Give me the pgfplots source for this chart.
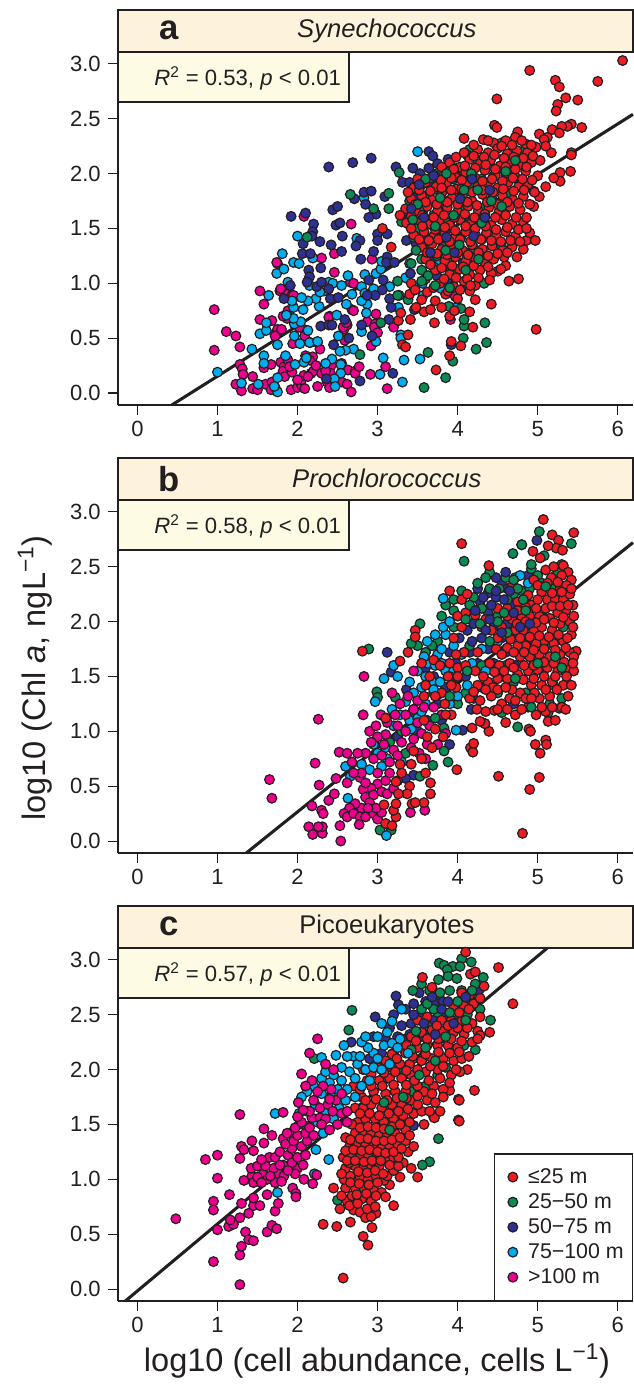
\documentclass[border=0pt]{standalone}
\usepackage{pgfplots}
\usepackage{fontspec}
\setmainfont{Liberation Sans}
\pgfplotsset{compat=1.18}
\definecolor{cR}{HTML}{ED1C24}
\definecolor{cG}{HTML}{0B8A55}
\definecolor{cN}{HTML}{2E3192}
\definecolor{cC}{HTML}{00AEEF}
\definecolor{cM}{HTML}{EC008C}
\definecolor{ink}{HTML}{231F20}
\definecolor{hdr}{HTML}{FDF3DC}
\definecolor{bxc}{HTML}{FEFBE4}
\newcommand\pts[2]{\addplot[only marks,mark=*,mark size=3.65pt,draw=ink,fill=#1,line width=0.9pt,forget plot] coordinates {#2};}
\pgfplotsset{panel/.style={
  scale only axis,width=386.25pt,height=264.75pt,
  xmin=-0.2423,xmax=6.19,ymin=-0.109,ymax=3.108,
  axis x line*=bottom,axis y line*=left,
  axis line style={draw=ink,line width=1pt,-},
  xtick={0,1,2,3,4,5,6},ytick={0,0.5,1,1.5,2,2.5,3},
  tick style={draw=ink,line width=0.8pt},
  tick align=outside,
  major tick length=7.5pt,
  /pgf/number format/assume math mode=true,
  /pgf/number format/fixed,/pgf/number format/fixed zerofill,
  yticklabel style={/pgf/number format/precision=1,font=\fontsize{16.5}{18}\selectfont,color=ink,xshift=-2pt},
  xticklabel style={/pgf/number format/precision=0,font=\fontsize{16.5}{18}\selectfont,color=ink,yshift=-1pt},
  clip=false}}
\newcommand\furn[3]{%
  \draw[draw=ink,line width=1pt,fill=hdr] (rel axis cs:0,1) rectangle (rel axis cs:1,1.119);
  \draw[draw=ink,line width=1pt,fill=bxc] (rel axis cs:0,1) rectangle (rel axis cs:0.4485,0.858);
  \node[font=\fontsize{26}{28}\selectfont\bfseries,text=ink] at (rel axis cs:0.1,1.06) {#1};
  \node[font=\fontsize{19.2}{21}\selectfont,text=ink] at (rel axis cs:0.522,1.06) {#2};
  \node[font=\fontsize{16.6}{18}\selectfont,text=ink,anchor=east] at (rel axis cs:0.442,0.925) {\textit{R}\textsuperscript{2} = #3, \textit{p} < 0.01};
}
\begin{document}
\begin{tikzpicture}[x=0.75pt,y=0.75pt]
\useasboundingbox (0,0) rectangle (633,1386);
% ---------------- panel a
\begin{axis}[panel,at={(88.5pt,735.75pt)},anchor=south west]
\pts{cM}{(.96,.76)(.96,.39)(1.11,.56)(1.23,.52)(1.28,.42)(1.28,.26)(1.31,.22)(1.32,.17)(1.23,.08)(1.30,.02)(1.44,.15)(1.44,.04)(1.50,.03)(1.53,.93)(1.58,.81)(1.53,.67)(1.68,.66)(1.73,.54)(1.75,.58)(1.80,.58)(1.58,.23)(1.67,.26)(1.60,.08)(1.68,.10)(1.67,.03)(1.72,.05)(1.79,.28)(1.83,.24)(1.82,.20)(1.84,.15)(1.93,.19)(1.92,.03)(2.0,.05)(2.05,.07)(2.05,.12)(2.08,.16)(2.17,.18)(2.2,.20)(2.19,.33)(2.15,.30)(2.23,.25)(2.09,.04)(2.25,.06)(2.3,.18)(2.37,.10)(2.42,.25)(2.4,.05)(2.41,.18)(2.55,.1)(2.62,.08)(2.67,.01)(2.63,.21)(2.72,.2)(2.72,.18)(2.77,.24)(2.91,.17)(3.12,.04)(3.1,.24)(2.92,.43)(1.78,.93)(1.87,.9)(1.93,.89)(1.88,.75)(1.87,.68)(1.82,.70)(2.08,.58)(2.09,.52)(1.94,.45)(2.16,.46)(2.25,.46)(2.28,.40)(2.4,.70)(2.58,.58)(2.62,.62)(2.59,.48)(2.68,.76)(2.87,.65)(2.98,.72)(2.97,.63)(2.96,.6)(3.0,.55)(3.2,.60)(1.75,1.18)(2.46,1.1)(2.46,1.27)(2.3,1.23)(2.66,1.01)(2.93,1.22)(2.08,1.61)(2.67,1.54)(1.79,.95)(1.74,1.19)(1.95,.89)(2.7,1.0)(2.7,.75)(3.97,.88)(3.91,.67)(2.57,.6)(2.61,.64)(2.39,.69)(2.02,.6)(2.1,.34)(2.13,.15)(2.35,.2)(2.55,.27)(1.72,.52)(2.0,.12)(1.88,.3)(1.9,.24)}
\pts{cC}{(1.0,.19)(1.43,.4)(1.58,.34)(1.58,.27)(1.3,.09)(1.51,.08)(1.75,.01)(1.71,.06)(1.75,.14)(1.53,.54)(1.61,.57)(1.61,.64)(1.75,.44)(1.85,.34)(1.97,.26)(2.08,.28)(2.11,.32)(2.43,.31)(2.54,.26)(2.54,.18)(2.46,.13)(2.47,.06)(2.35,.27)(2.7,.4)(2.6,.39)(2.53,.38)(2.98,.47)(3.07,.32)(3.03,.17)(3.31,.1)(3.33,.3)(3.29,.53)(3.29,.5)(3.53,.31)(3.99,.78)(1.96,.52)(2.03,.45)(2.15,.46)(2.25,.47)(1.96,.63)(2.04,.65)(1.95,.68)(1.86,.71)(2.13,.57)(2.51,.52)(2.8,.56)(2.49,.71)(2.61,.81)(2.87,.81)(2.86,.73)(2.8,.84)(2.68,.9)(2.27,.79)(2.23,.86)(2.07,.76)(2.13,.84)(2.05,.87)(1.95,.78)(1.93,.84)(1.64,.89)(1.88,1.01)(1.74,1.09)(1.83,1.13)(1.95,1.19)(2.02,1.18)(1.81,1.27)(2.0,1.43)(2.19,1.23)(2.15,.98)(2.39,1.01)(2.44,1.0)(2.55,.98)(2.63,1.07)(2.84,1.08)(2.98,1.09)(3.04,1.13)(2.8,.97)(2.84,.91)(3.15,.97)(3.27,.89)(3.26,.78)(2.74,1.41)(3.57,.89)(3.8,.95)(3.56,1.0)(3.4,1.18)(4.55,1.33)(4.33,1.24)(3.5,2.2)(2.83,1.78)(3.93,1.84)(3.62,1.3)(3.75,1.2)(3.9,1.55)(4.1,1.28)(2.33,.93)(2.95,.95)(3.35,1.05)(3.45,.97)(3.05,1.2)(2.28,.92)}
\pts{cN}{(2.39,2.06)(2.69,2.1)(2.92,2.14)(3.23,2.06)(3.44,2.05)(3.64,2.2)(3.69,2.16)(3.75,2.09)(3.88,2.13)(3.64,2.05)(3.53,2.0)(2.83,1.83)(2.92,1.84)(2.71,1.77)(2.85,1.72)(2.44,1.67)(2.5,1.7)(1.92,1.61)(2.1,1.64)(2.98,1.63)(2.89,1.6)(3.09,1.79)(3.31,1.92)(3.58,1.91)(3.68,1.9)(2.2,1.54)(2.19,1.47)(2.18,1.43)(2.07,1.36)(2.28,1.38)(2.42,1.35)(2.56,1.43)(2.48,1.53)(2.53,1.55)(2.78,1.39)(2.73,1.34)(2.55,1.29)(2.06,1.27)(2.16,1.27)(2.79,1.22)(2.95,1.29)(3.0,1.45)(3.0,1.39)(3.12,1.45)(3.12,1.24)(3.11,1.19)(3.21,1.19)(3.36,1.39)(2.29,1.14)(2.14,1.12)(2.15,1.06)(2.12,1.01)(1.91,.98)(1.83,.86)(2.24,.97)(2.3,1.01)(2.39,.95)(2.41,.86)(2.51,.87)(2.89,1.03)(3.07,1.03)(3.06,.94)(2.97,.89)(2.87,.89)(3.15,.86)(3.17,.78)(2.29,.61)(2.39,.62)(2.43,.62)(2.59,.67)(2.8,.62)(3.14,.67)(2.93,.52)(2.64,.5)(2.45,.44)(3.46,.76)(3.41,1.09)(3.92,.44)(2.78,.11)(2.36,.13)(3.19,.18)(3.67,1.21)(3.48,1.36)(3.61,1.42)(3.78,1.45)(3.74,1.07)(3.87,1.03)(4.07,1.19)(3.91,1.12)(4.04,1.42)(3.91,1.51)(3.4,1.6)(3.52,1.7)(3.5,1.82)(3.62,1.75)(3.42,1.5)(3.6,1.56)(3.85,1.93)(3.98,1.98)(4.1,1.72)(3.83,1.68)(4.22,1.6)(4.3,1.4)(3.4,1.92)(3.45,1.78)}
\pts{cG}{(3.58,.05)(3.85,.14)(3.63,.37)(3.94,.29)(4.23,.4)(4.36,.46)(4.07,.5)(4.34,.64)(4.08,.61)(4.08,.67)(4.04,.77)(3.89,.79)(2.78,.35)(3.04,.64)(3.25,1.02)(3.25,.89)(3.38,.85)(4.33,1.0)(2.66,1.81)(3.27,2.01)(3.14,1.82)(2.95,1.68)(3.14,1.68)(3.74,2.0)(3.46,1.88)(3.95,2.05)(2.12,1.42)(3.4,1.75)(3.3,1.56)(3.5,1.5)(3.45,1.42)(3.55,1.22)(3.42,1.18)(3.55,1.12)(3.6,1.04)(3.7,1.15)(3.74,1.25)(3.82,1.33)(3.93,1.22)(3.98,1.1)(4.12,1.0)(4.0,1.38)(4.14,1.55)(3.85,1.56)(3.7,1.62)(3.62,1.8)(3.75,1.85)(3.88,1.75)(4.05,1.82)(4.18,1.9)(4.3,1.95)(4.45,1.98)(4.55,2.05)(4.4,2.08)(4.25,2.12)(4.15,2.22)(4.65,1.82)(4.5,1.62)(4.38,1.5)(4.2,1.32)(4.02,1.68)(3.56,1.65)(4.75,1.95)(4.62,2.13)(4.35,1.7)(4.28,1.28)(3.8,1.42)(3.95,1.95)(4.8,2.2)(4.55,2.28)}
\pts{cR}{(6.06,3.03)(4.9,2.94)(5.22,2.85)(5.27,2.79)(5.75,2.84)(4.49,2.68)(5.35,2.69)(5.5,2.67)(5.25,2.63)(5.23,2.57)(4.46,2.44)(4.49,2.42)(5.55,2.42)(5.42,2.45)(5.37,2.43)(5.3,2.43)(5.18,2.4)(4.75,2.38)(4.08,2.32)(5.02,2.36)(5.27,2.37)(5.12,2.33)(5.08,2.31)(5.42,2.19)(5.42,2.17)(5.17,2.19)(5.1,2.25)(5.03,2.12)(5.41,2.02)(5.28,2.01)(5.28,1.93)(5.2,1.96)(5.1,1.88)(5.02,1.79)(4.95,1.7)(4.95,1.84)
(4.98,.58)(4.42,.81)(4.19,.6)(4.15,.74)(4.04,.43)(3.92,.47)(3.9,.34)(3.73,.21)(3.71,.64)(3.41,.67)(3.26,.66)(3.29,.73)(3.38,.53)(3.31,.44)(3.35,.42)(4.64,1.02)(4.76,1.04)(4.74,1.24)(4.82,1.31)(4.86,1.39)(4.97,1.39)(4.45,1.22)(4.6,1.16)(4.5,1.11)(3.06,1.5)(3.17,1.33)
(4.32,2.31)(4.45,2.28)(4.6,2.3)(4.72,2.33)(4.85,2.27)(4.12,2.17)(4.25,2.22)(4.38,2.19)(4.5,2.23)(4.62,2.18)(4.74,2.21)(4.87,2.19)(4.98,2.24)(3.9,2.1)(4.03,2.06)(4.15,2.13)(4.28,2.09)(4.41,2.12)(4.53,2.07)(4.66,2.11)(4.79,2.08)(4.92,2.1)(3.72,1.98)(3.85,2.02)(3.97,1.97)(4.1,2.01)(4.22,1.96)(4.34,2.03)(4.47,1.98)(4.6,2.0)(4.72,1.97)(4.85,2.02)(5.0,1.98)(3.45,1.87)(3.6,1.92)(3.73,1.88)(3.86,1.91)(3.98,1.86)(4.12,1.92)(4.25,1.88)(4.37,1.9)(4.5,1.87)(4.63,1.92)(4.76,1.88)(4.88,1.9)(3.42,1.77)(3.55,1.8)(3.68,1.76)(3.8,1.82)(3.93,1.78)(4.06,1.8)(4.18,1.75)(4.31,1.81)(4.43,1.77)(4.56,1.8)(4.69,1.76)(4.82,1.79)(3.35,1.68)(3.48,1.65)(3.62,1.7)(3.75,1.66)(3.87,1.69)(4.0,1.65)(4.13,1.7)(4.26,1.66)(4.39,1.69)(4.52,1.66)(4.65,1.7)(4.78,1.67)(3.36,1.55)(3.5,1.58)(3.65,1.54)(3.77,1.57)(3.9,1.53)(4.03,1.58)(4.16,1.54)(4.28,1.57)(4.42,1.53)(4.55,1.58)(4.68,1.54)(4.82,1.56)(3.45,1.44)(3.58,1.47)(3.7,1.43)(3.84,1.46)(3.97,1.42)(4.1,1.47)(4.23,1.43)(4.36,1.46)(4.48,1.43)(4.6,1.47)(4.72,1.43)(4.9,1.46)(3.55,1.33)(3.68,1.36)(3.8,1.31)(3.93,1.34)(4.06,1.3)(4.18,1.35)(4.31,1.31)(4.43,1.34)(4.56,1.3)(4.68,1.33)(3.6,1.22)(3.84,1.2)(3.97,1.24)(4.1,1.2)(4.22,1.23)(4.34,1.19)(4.58,1.24)(3.72,1.12)(3.9,1.08)(4.02,1.13)(4.15,1.08)(4.28,1.12)(4.42,1.09)(3.42,1.0)(3.78,1.0)(3.95,.97)(4.08,1.02)(4.22,.98)(3.4,.9)(3.55,.85)(3.62,.92)(3.72,.84)(3.85,.9)(4.0,.86)(4.15,.93)(4.22,.85)(3.48,.78)(3.58,.74)(3.66,.76)(3.8,.78)(3.9,.7)(3.96,.75)
(4.2,2.26)(4.38,2.3)(4.55,2.25)(4.68,2.26)(4.8,2.3)(4.92,2.26)(3.98,2.15)(4.08,2.19)(4.2,2.16)(4.33,2.15)(4.46,2.17)(4.58,2.14)(4.7,2.15)(4.82,2.14)(4.94,2.16)(3.8,2.06)(3.95,2.04)(4.09,2.07)(4.22,2.05)(4.35,2.08)(4.47,2.04)(4.6,2.06)(4.72,2.04)(4.86,2.06)(3.5,1.95)(3.66,1.96)(3.79,1.94)(3.92,1.96)(4.05,1.94)(4.18,1.97)(4.31,1.93)(4.43,1.95)(4.56,1.93)(4.69,1.96)(4.81,1.95)(4.93,1.94)(3.38,1.83)(3.52,1.85)(3.66,1.84)(3.8,1.87)(3.92,1.85)(4.05,1.86)(4.18,1.83)(4.31,1.85)(4.44,1.83)(4.57,1.86)(4.7,1.84)(4.83,1.85)(4.96,1.83)(3.47,1.72)(3.6,1.74)(3.74,1.72)(3.87,1.74)(4.0,1.72)(4.12,1.74)(4.24,1.71)(4.37,1.74)(4.5,1.72)(4.62,1.74)(4.76,1.73)(4.9,1.72)(3.28,1.62)(3.42,1.61)(3.56,1.62)(3.7,1.6)(3.83,1.62)(3.96,1.6)(4.09,1.63)(4.21,1.6)(4.34,1.63)(4.47,1.6)(4.6,1.62)(4.73,1.6)(4.86,1.6)(3.42,1.5)(3.56,1.52)(3.72,1.49)(3.84,1.51)(3.97,1.48)(4.1,1.52)(4.22,1.5)(4.35,1.52)(4.48,1.49)(4.62,1.51)(4.76,1.49)(4.86,1.5)(3.52,1.4)(3.64,1.39)(3.76,1.4)(3.9,1.38)(4.03,1.4)(4.16,1.38)(4.29,1.4)(4.42,1.39)(4.54,1.38)(4.66,1.39)(4.78,1.38)(3.62,1.28)(3.74,1.27)(3.87,1.26)(4.0,1.28)(4.13,1.26)(4.26,1.28)(4.38,1.25)(4.5,1.27)(4.62,1.28)(3.66,1.17)(3.8,1.14)(3.93,1.16)(4.07,1.15)(4.2,1.16)(4.38,1.15)(4.54,1.13)(3.83,1.04)(3.98,1.05)(4.12,1.04)(4.26,1.05)(4.4,1.03)(3.47,.94)(3.7,.96)(3.88,.93)(4.03,.94)(4.16,.98)}
\pts{cG}{(4.17,2.0)(4.42,1.75)(4.02,1.35)(3.72,1.52)(3.63,1.07)(4.08,1.85)(3.85,1.3)(4.26,1.22)(3.78,1.78)(4.6,2.02)(4.3,1.55)(3.95,1.62)(4.55,1.7)(3.48,1.3)(4.1,1.12)(4.72,2.12)(3.9,.96)(4.25,1.85)(3.5,1.72)(3.44,1.58)(3.6,1.95)(3.55,1.02)(3.72,.98)(3.86,2.0)}
\pts{cN}{(4.03,1.77)(3.86,1.42)(4.34,1.6)(3.7,1.98)(3.58,1.6)(4.18,1.95)(4.4,1.85)(3.96,1.28)(4.2,1.43)(3.42,1.68)(3.52,1.9)(3.66,1.28)}
\addplot[ink,line width=2.3pt,forget plot] coordinates {(0.43,-0.109)(6.19,2.54)};
\furn{a}{\textit{Synechococcus}}{0.53}
\end{axis}
% ---------------- panel b
\begin{axis}[panel,at={(88.5pt,399.75pt)},anchor=south west]
\pts{cN}{(3.12,1.72)(3.17,1.54)(3.45,.6)(3.35,.57)(2.96,.88)(3.9,.88)(4.06,1.01)(4.17,1.2)(3.36,1.38)(4.7,1.25)(4.34,1.07)(4.99,2.74)(4.8,2.7)(3.6,1.58)(3.7,1.5)(3.85,1.4)(3.95,1.48)(3.9,1.72)(3.98,1.62)(4.1,1.5)(4.25,1.62)(4.15,1.72)(4.02,1.85)(4.12,1.92)(4.2,1.98)(4.3,1.85)(4.38,1.75)(4.45,1.62)(4.6,1.72)(4.55,1.85)(4.45,1.95)(4.38,2.08)(4.28,2.18)(4.25,2.3)(4.38,2.26)(4.48,2.22)(4.55,2.36)(4.62,2.3)(4.48,2.4)(4.68,2.15)(4.72,2.02)(4.62,1.98)(4.88,2.42)(4.85,1.95)(4.78,1.8)(4.72,1.6)(4.55,1.5)(4.3,1.4)(4.2,1.3)(3.75,1.25)(3.62,1.1)(3.5,1.0)(3.4,1.15)(3.25,.95)(3.8,1.1)}
\pts{cG}{(5.02,2.82)(4.08,2.55)(4.69,2.62)(4.8,2.7)(5.42,2.71)(3.53,1.98)(2.89,1.75)(4.75,1.04)(4.55,1.17)(5.13,1.17)(3.88,.72)(3.69,.69)(3.83,.82)(3.53,.59)(2.99,1.36)(3.0,1.31)(3.22,1.31)(3.83,1.03)(3.03,.1)(3.17,.1)(4.92,2.48)(5.08,2.6)(5.25,2.45)(5.3,2.52)(4.4,2.45)(4.35,2.4)(4.25,2.35)(4.2,2.22)(4.05,2.28)(3.95,2.2)(3.85,2.15)(3.8,2.05)(3.95,2.1)(3.75,1.82)(3.68,1.78)(3.6,1.72)(3.5,1.78)(3.42,1.8)(4.6,2.4)(4.72,2.4)(4.8,2.28)(5.0,2.42)(5.05,2.35)(4.9,2.3)(4.7,2.25)(5.2,2.3)(4.5,2.05)(4.7,1.9)(4.85,1.8)(4.95,1.65)(5.05,1.55)(5.2,1.42)(5.15,1.25)(5.3,1.3)(4.85,1.35)(4.7,1.45)(4.5,1.35)(4.3,1.6)(4.1,1.35)(4.0,1.25)(3.7,1.35)(3.45,1.2)(3.3,1.0)(3.15,.9)(3.35,.8)(4.15,1.78)(3.95,1.95)(5.1,1.78)(5.32,1.95)(4.6,1.6)}
\pts{cC}{(3.08,1.48)(3.82,2.21)(2.97,1.27)(3.11,1.12)(3.35,1.27)(3.98,1.01)(2.6,.68)(2.66,.59)(2.63,.39)(3.11,.05)(4.88,2.35)(4.78,2.42)(3.2,1.6)(3.25,1.5)(3.4,1.45)(3.45,1.35)(3.55,1.4)(3.5,1.55)(3.62,1.62)(3.72,1.6)(3.68,1.45)(3.78,1.45)(3.85,1.55)(3.95,1.55)(3.75,1.7)(3.62,1.82)(3.85,1.88)(3.8,1.75)(3.72,1.88)(3.82,1.95)(3.95,1.78)(4.05,1.7)(4.18,1.62)(4.12,1.42)(4.0,1.32)(3.9,1.25)(3.4,1.1)(3.28,1.15)(3.18,1.2)(3.5,1.12)(3.1,.85)(3.0,.8)(2.9,.65)(3.2,1.05)(3.3,.72)(3.05,.68)(4.3,1.75)(4.5,1.82)(2.8,.7)(3.6,1.25)(4.35,1.55)(3.9,2.0)(3.6,1.5)(3.7,1.38)(3.8,1.62)(3.9,1.5)(3.55,1.18)(3.42,1.02)(3.12,.75)(2.95,.88)(3.58,1.68)}
\pts{cM}{(2.26,1.11)(1.65,.56)(1.68,.39)(2.27,.51)(2.22,.71)(2.52,.81)(2.82,1.15)(2.14,.13)(2.19,.06)(2.31,.07)(2.31,.13)(2.26,.13)(2.53,.14)(2.54,0)(2.18,.32)(2.3,.28)(2.32,.25)(2.39,.37)(2.46,.43)(2.48,.57)(2.62,.53)(2.78,.58)(3.59,.28)(3.41,.26)
(2.83,1.5)(3.18,1.35)(3.45,1.55)(3.45,1.2)(3.28,1.25)(3.35,1.15)(3.5,1.28)(3.58,1.22)(3.7,1.22)(3.8,1.15)(3.65,1.05)(3.55,.98)(3.45,.93)(3.3,.9)(3.2,.83)(3.1,.97)(3.0,.95)(2.9,1.0)(2.98,1.05)(3.12,1.08)(3.22,1.15)(2.85,.8)(2.75,.8)(2.62,.8)(2.68,.72)(2.8,.62)(2.95,.75)(3.05,.78)(3.15,.72)(3.25,.78)(3.42,.85)(3.52,.8)(3.6,.75)(3.75,.88)(3.85,.98)(3.0,.52)(2.92,.48)(2.82,.47)(2.85,.4)(2.95,.42)(3.05,.45)(3.12,.43)(2.9,.35)(2.8,.3)(2.72,.34)(2.65,.3)(2.58,.25)(2.62,.22)(2.7,.25)(2.78,.22)(2.85,.22)(2.95,.25)(3.0,.2)(3.05,.26)(2.77,.15)(2.98,.3)(2.88,.3)(3.1,.55)(3.0,.62)(3.25,.55)(3.2,.48)(2.7,.62)(2.85,.53)(3.35,1.0)(3.5,1.08)(3.62,.88)(3.38,1.32)(3.25,1.05)(3.08,.88)(2.92,.9)(3.04,1.15)(3.15,.62)}
\pts{cR}{(5.07,2.93)(5.45,2.81)(5.18,2.79)(5.26,2.74)(4.05,2.71)(4.39,2.51)(5.23,2.67)(5.31,2.65)(5.13,2.69)(4.94,2.64)(5.03,2.58)(5.32,2.51)(5.38,2.45)(5.17,2.4)(5.28,2.3)(3.47,1.92)(3.47,1.86)(2.81,1.73)(3.38,1.72)(3.28,1.64)(5.48,1.73)
(4.81,.07)(4.51,.59)(5.02,.58)(4.9,.47)(3.99,.65)(3.66,.53)(3.66,.43)(3.58,.35)(3.43,.34)(3.47,.35)(3.23,.22)(3.2,.28)(3.23,.34)(3.4,.5)(3.37,.43)(3.26,.43)(3.23,.54)(3.08,.33)(3.1,.16)(3.18,.14)(5.1,.92)(5.11,.88)(4.97,.88)(5.03,.8)(4.89,1.02)(4.91,1.0)(5.13,1.09)(5.27,1.21)(4.16,.85)(4.19,.81)(4.2,.89)(4.18,1.03)(4.39,1.0)(4.34,1.07)(4.28,1.09)(4.35,1.18)(4.46,1.19)
(3.1,1.12)(3.65,1.5)(3.8,1.35)(3.7,1.65)(3.55,1.62)(3.58,1.32)
(3.78,1.6)(3.9,1.62)(4.0,1.58)(4.1,1.6)(4.22,1.55)(4.25,1.72)(3.95,1.85)(4.05,1.95)(4.0,2.05)(3.9,2.28)(4.05,2.2)(4.12,2.25)(4.1,2.08)(4.22,2.06)(4.35,2.02)(4.3,1.95)(4.42,1.92)(4.55,1.95)(4.5,2.12)(4.62,2.12)(4.68,2.32)(4.75,2.18)(4.85,2.22)(4.92,2.15)(4.95,2.38)(5.05,2.27)(5.12,2.2)(5.1,2.12)(5.22,2.2)(5.32,2.2)(5.4,2.25)(5.44,2.15)(5.35,2.1)(5.25,2.08)(5.15,2.03)(5.02,2.05)(4.9,2.05)(4.8,2.05)(4.68,2.02)(4.6,1.88)(4.72,1.92)(4.82,1.92)(4.95,1.92)(5.05,1.95)(5.18,1.92)(5.28,1.98)(5.4,2.0)(5.42,1.88)(5.32,1.82)(5.2,1.8)(5.08,1.82)(4.98,1.8)(4.85,1.78)(4.75,1.78)(4.62,1.76)(4.48,1.75)(4.4,1.62)(4.52,1.6)(4.65,1.62)(4.78,1.68)(4.9,1.68)(5.02,1.7)(5.15,1.68)(5.28,1.7)(5.4,1.72)(5.38,1.58)(5.25,1.55)(5.12,1.58)(5.0,1.56)(4.88,1.55)(4.75,1.52)(4.62,1.48)(4.5,1.48)(4.38,1.45)(4.25,1.42)(4.15,1.3)(4.28,1.28)(4.42,1.32)(4.55,1.25)(4.65,1.3)(4.78,1.35)(4.92,1.42)(5.05,1.42)(5.18,1.45)(5.32,1.42)(5.3,1.22)(5.15,1.32)(5.02,1.3)(4.88,1.22)(4.98,1.15)(5.1,1.18)(5.22,1.1)(4.72,1.15)(4.6,1.08)(5.45,1.55)(5.45,2.05)(5.42,2.38)(3.92,1.15)(3.98,1.4)(3.72,1.02)(3.58,1.1)(3.82,.95)(3.68,.85)(3.55,.75)(3.42,.7)(3.6,.62)
(5.1,2.47)(5.2,2.5)(5.3,2.42)(5.0,2.33)(5.12,2.35)(5.25,2.36)(5.36,2.33)(4.88,2.24)(5.0,2.2)(5.18,2.26)(5.3,2.27)(5.42,2.3)(4.75,2.1)(4.85,2.13)(4.98,2.12)(5.18,2.14)(5.28,2.14)(5.38,2.15)(4.62,2.05)(4.74,1.98)(4.85,2.0)(4.98,1.99)(5.08,2.02)(5.2,1.99)(5.32,2.04)(5.44,1.95)(4.5,1.85)(4.66,1.84)(4.78,1.85)(4.9,1.86)(5.02,1.87)(5.14,1.86)(5.26,1.88)(5.37,1.85)(4.55,1.7)(4.7,1.72)(4.83,1.72)(4.95,1.74)(5.08,1.75)(5.22,1.74)(5.35,1.76)(5.45,1.68)(4.46,1.54)(4.58,1.55)(4.7,1.58)(4.83,1.6)(4.95,1.6)(5.08,1.63)(5.2,1.62)(5.33,1.63)(5.44,1.62)(4.32,1.5)(4.44,1.4)(4.68,1.38)(4.82,1.47)(4.95,1.48)(5.08,1.5)(5.22,1.5)(5.36,1.5)(5.42,1.42)(4.2,1.36)(4.35,1.38)(4.5,1.38)(4.6,1.4)(4.72,1.28)(4.85,1.3)(4.96,1.35)(5.1,1.38)(5.24,1.38)(5.38,1.32)(4.24,1.2)(4.5,1.2)(4.62,1.2)(4.8,1.2)(4.92,1.3)(5.05,1.22)(5.18,1.22)(5.35,1.2)(3.6,1.42)(3.72,1.32)(3.84,1.25)(3.88,1.5)(4.0,1.5)(4.08,1.72)(3.98,1.7)(3.92,1.42)(3.85,1.15)(3.62,.95)(3.45,.82)(3.3,.62)(3.28,.7)}
\pts{cG}{(4.3,2.12)(4.52,2.3)(4.75,2.3)(4.92,2.52)(5.1,2.32)(4.85,2.1)(4.62,1.9)(5.0,1.62)(5.22,1.68)(4.72,1.48)(4.92,1.22)(5.3,1.58)(4.4,1.82)(4.12,1.55)(3.9,1.32)(3.72,1.12)(4.15,2.15)(4.4,2.3)(4.62,2.2)(4.5,2.0)(4.28,1.98)(4.1,2.02)(4.7,2.38)(4.82,2.2)(4.58,2.08)}
\pts{cN}{(4.58,2.2)(4.42,2.15)(4.7,2.08)(4.35,1.92)(4.18,1.82)(4.9,1.98)(4.48,2.28)(4.32,2.22)(4.65,2.28)(4.55,1.9)(4.4,2.02)(4.22,2.1)(4.78,1.95)(4.6,2.45)}
\addplot[ink,line width=2.3pt,forget plot] coordinates {(1.36,-0.109)(6.19,2.72)};
\furn{b}{\textit{Prochlorococcus}}{0.58}
\end{axis}
% ---------------- panel c
\begin{axis}[panel,at={(88.5pt,63.75pt)},anchor=south west,
  legend style={at={(rel axis cs:1,0)},anchor=south east,draw=ink,line width=1pt,font=\fontsize{16}{18}\selectfont,text=ink,cells={anchor=west},row sep=2.1pt,inner xsep=4.5pt,inner ysep=9pt,fill=white},
  legend image code/.code={\draw[#1] plot[mark=*] coordinates {(0pt,0pt)};\path (-9pt,0pt) (9pt,0pt);},
  legend cell align=left]
\addlegendimage{mark options={draw=ink,fill=cR,line width=0.9pt},mark size=3.65pt,only marks}\addlegendentry{≤25 m}
\addlegendimage{mark options={draw=ink,fill=cG,line width=0.9pt},mark size=3.65pt,only marks}\addlegendentry{25−50 m}
\addlegendimage{mark options={draw=ink,fill=cN,line width=0.9pt},mark size=3.65pt,only marks}\addlegendentry{50−75 m}
\addlegendimage{mark options={draw=ink,fill=cC,line width=0.9pt},mark size=3.65pt,only marks}\addlegendentry{75−100 m}
\addlegendimage{mark options={draw=ink,fill=cM,line width=0.9pt},mark size=3.65pt,only marks}\addlegendentry{>100 m}
\pts{cN}{(3.45,1.49)(3.23,2.67)(2.97,2.48)(2.67,2.25)(4.26,2.71)(3.26,2.59)(3.52,2.7)(3.74,2.68)(3.2,2.5)(3.35,2.55)(3.45,2.6)(3.6,2.62)(3.7,2.6)(3.82,2.62)(3.95,2.58)(3.85,2.5)(3.7,2.45)(3.55,2.5)(3.42,2.42)(3.3,2.4)(3.15,2.38)(3.1,2.28)(3.25,2.3)(3.4,2.32)(3.55,2.3)(3.65,2.35)(3.8,2.35)(3.05,2.15)(2.95,2.3)(2.9,2.1)(3.2,2.15)}
\pts{cG}{(4.05,3.01)(4.17,2.98)(3.77,2.97)(3.83,2.95)(3.94,2.94)(4.03,2.94)(3.87,2.91)(3.88,2.85)(3.99,2.83)(4.32,2.84)(4.22,2.78)(3.55,2.78)(3.76,2.82)(4.41,2.45)(3.44,2.72)(2.68,2.54)(2.64,2.36)(2.21,2.1)(3.76,1.37)(3.65,1.16)(3.56,1.13)(2.5,.81)(4.05,2.72)(4.15,2.65)(3.9,2.72)(3.65,2.72)(3.55,2.55)(3.75,2.52)(3.95,2.5)(4.12,2.5)(4.28,2.55)(3.62,2.4)(3.78,2.28)(3.9,2.2)(4.08,2.22)(4.22,2.18)(3.58,2.12)(3.45,2.1)(3.25,2.0)(3.1,1.92)(3.3,2.2)(3.42,1.8)(3.6,1.85)(3.75,1.95)(3.85,2.02)(3.3,1.7)(3.45,1.6)(3.15,1.65)(2.9,1.68)(2.75,1.5)(3.05,1.48)(3.28,1.52)}
\pts{cR}{(4.1,3.07)(4.51,2.93)(4.69,2.6)(4.16,2.87)(4.22,2.89)(3.56,2.84)(4.33,2.76)(3.9,1.81)(4.21,1.81)(4.01,1.73)(4.25,2.35)(4.28,2.31)(4.4,2.34)(4.12,2.0)(4.03,1.98)(3.7,1.57)(4.01,1.54)(4.02,1.72)(2.57,.1)(2.32,.59)(2.49,.57)(2.66,.61)(2.82,.48)(2.88,.4)(2.93,.56)(2.45,.92)(2.53,.73)(3.2,.76)(2.98,.69)(3.15,.95)(3.28,1.02)(3.5,1.02)(4.02,1.53)(3.71,1.56)
(2.62,.8)(2.7,.72)(2.78,.7)(2.85,.65)(2.92,.66)(2.68,.85)(2.8,.82)(2.92,.8)(2.6,.92)(2.72,.92)(2.83,.92)(2.95,.9)(3.05,.88)(2.58,1.0)(2.66,1.03)(2.78,1.02)(2.88,1.0)(2.98,1.03)(3.08,.99)(2.6,1.1)(2.72,1.12)(2.82,1.1)(2.92,1.13)(3.02,1.12)(2.57,1.2)(2.67,1.22)(2.78,1.2)(2.88,1.22)(2.98,1.2)(3.1,1.18)(3.2,1.2)(3.32,1.15)(3.42,1.1)(3.38,1.25)(2.65,1.3)(2.75,1.32)(2.85,1.32)(2.95,1.3)(3.05,1.28)(3.15,1.3)(3.25,1.32)(3.35,1.35)(2.6,1.38)(2.72,1.42)(2.82,1.42)(2.92,1.42)(3.02,1.4)(3.12,1.4)(3.22,1.42)(3.35,1.45)(3.45,1.6)(2.75,1.52)(2.85,1.55)(2.97,1.55)(3.08,1.52)(3.2,1.55)(3.32,1.58)(3.55,1.62)(2.72,1.65)(2.82,1.65)(2.92,1.68)(3.05,1.65)(3.18,1.68)(3.3,1.68)(3.42,1.72)(3.62,1.72)(3.72,1.7)(3.58,1.8)(2.8,1.75)(2.95,1.8)(3.1,1.78)(3.22,1.8)(3.35,1.8)(3.5,1.85)(3.7,1.85)(3.82,1.82)(2.7,1.85)(2.87,1.9)(3.02,1.9)(3.15,1.92)(3.3,1.92)(3.42,1.95)(3.6,1.98)(3.75,2.0)(3.92,1.95)(2.82,2.0)(3.0,2.02)(3.12,2.02)(3.28,2.05)(3.4,2.05)(3.55,2.08)(3.68,2.1)(3.82,2.1)(3.95,2.08)(4.05,2.1)(3.18,2.14)(3.35,2.15)(3.5,2.2)(3.62,2.22)(3.75,2.22)(3.88,2.22)(4.0,2.2)(3.3,2.28)(3.42,2.3)(3.55,2.34)(3.68,2.36)(3.82,2.35)(3.95,2.34)(4.08,2.32)(3.5,2.45)(3.62,2.48)(3.8,2.45)(3.92,2.45)(4.05,2.44)(4.18,2.42)(3.95,2.58)(4.08,2.58)(4.2,2.6)(4.15,2.68)(4.28,2.65)(4.05,2.7)(3.68,2.75)
(2.65,.76)(2.75,.78)(2.87,.73)(2.97,.75)(2.55,.85)(2.74,.86)(2.86,.87)(2.98,.85)(3.1,.84)(2.66,.97)(2.77,.96)(2.89,.95)(3.0,.97)(3.12,1.03)(2.55,1.05)(2.64,1.15)(2.76,1.07)(2.87,1.06)(2.97,1.08)(3.07,1.05)(3.2,1.08)(2.62,1.17)(2.72,1.17)(2.83,1.16)(2.93,1.17)(3.04,1.17)(3.15,1.13)(3.26,1.12)(3.26,1.2)(2.6,1.26)(2.7,1.27)(2.8,1.26)(2.9,1.27)(3.0,1.25)(3.1,1.24)(3.2,1.25)(3.3,1.28)(3.45,1.3)(2.66,1.36)(2.78,1.37)(2.88,1.37)(2.98,1.35)(3.08,1.35)(3.18,1.36)(3.28,1.38)(3.4,1.4)(2.68,1.5)(2.78,1.47)(2.88,1.48)(2.98,1.47)(3.08,1.46)(3.18,1.48)(3.28,1.5)(3.4,1.52)(3.58,1.5)(2.78,1.6)(2.9,1.6)(3.02,1.58)(3.14,1.6)(3.26,1.62)(3.38,1.64)(3.5,1.68)(3.65,1.62)(3.78,1.62)(2.85,1.72)(2.98,1.73)(3.12,1.72)(3.24,1.74)(3.36,1.74)(3.5,1.76)(3.68,1.78)(3.82,1.75)(2.78,1.82)(2.92,1.85)(3.06,1.85)(3.2,1.86)(3.36,1.86)(3.46,1.9)(3.64,1.9)(3.78,1.92)(3.9,1.88)(2.92,1.96)(3.08,1.97)(3.22,1.98)(3.36,1.99)(3.5,2.0)(3.66,2.03)(3.82,2.03)(3.98,2.0)(3.1,2.08)(3.24,2.1)(3.44,2.12)(3.6,2.14)(3.76,2.16)(3.9,2.15)(4.02,2.16)(4.14,2.12)(3.36,2.22)(3.48,2.26)(3.62,2.28)(3.76,2.28)(3.92,2.28)(4.05,2.26)(4.18,2.25)(3.74,2.4)(3.88,2.4)(4.0,2.38)(4.12,2.38)(4.25,2.28)(4.02,2.52)(4.14,2.55)(4.28,2.48)}
\pts{cG}{(3.48,2.35)(3.7,2.55)(3.85,2.3)(3.6,2.2)(4.0,2.62)(4.1,2.45)(3.78,2.7)(3.52,1.95)(3.32,1.75)(3.72,2.08)(4.18,2.72)(3.42,2.18)(3.08,1.7)(3.15,1.45)(3.9,2.52)(3.62,2.6)}
\pts{cN}{(3.58,2.42)(3.8,2.55)(3.68,2.66)(3.95,2.42)(3.88,2.62)(3.45,2.5)(3.72,2.32)(4.1,2.66)}
\pts{cC}{(2.48,2.13)(2.3,2.11)(1.72,1.6)(1.75,.88)(2.21,1.05)(2.39,1.18)(2.23,1.27)(3.3,2.55)(3.18,2.44)(3.12,2.34)(3.05,2.42)(3.0,2.3)(3.08,2.22)(3.18,2.24)(3.25,2.2)(3.28,2.28)(3.38,2.15)(2.95,2.15)(2.88,2.2)(2.8,2.25)(2.7,2.12)(2.75,2.05)(2.85,2.0)(2.95,2.02)(3.05,2.0)(3.15,2.05)(2.78,2.12)(2.62,2.12)(2.55,2.02)(2.65,1.98)(2.72,1.92)(2.55,1.9)(2.45,1.95)(2.4,1.88)(2.3,1.92)(2.35,1.98)(2.5,1.82)(2.62,1.82)(2.72,1.75)(2.42,1.75)(2.3,1.78)(2.2,1.85)(2.12,1.8)(2.05,1.75)(2.22,1.68)(2.12,1.62)(2.02,1.6)(2.35,1.62)(2.25,1.52)(2.32,1.42)(2.12,1.48)(2.02,1.5)(2.58,2.22)(2.85,2.3)(3.0,2.1)(2.9,1.9)(2.8,1.85)(2.6,1.72)(2.52,1.65)(2.45,1.55)}
\pts{cM}{(.48,.64)(.85,1.18)(1.0,1.22)(1.0,1.01)(.95,.8)(.95,.72)(.95,.25)(1.28,.04)(1.28,1.59)(1.28,.31)(1.3,.39)(1.35,.52)(1.39,.45)(1.45,.44)(1.0,.54)(1.14,.57)(1.2,.59)(1.16,.63)(1.28,.65)(1.39,.69)(1.3,.78)(1.45,.76)(1.53,.76)(1.15,.86)(1.45,.83)(1.62,.86)(1.72,.71)(1.76,.78)(1.62,.52)(1.68,.58)(1.74,.55)(1.94,.92)(1.98,.87)(1.98,.84)(2.19,.96)(2.24,1.04)(1.82,1.61)(1.58,1.46)(1.68,1.4)(1.82,1.37)(1.43,1.35)(1.3,1.3)(1.33,1.27)(1.45,1.26)(1.28,1.19)(1.58,1.33)(1.33,.99)(2.25,2.28)(2.15,2.15)(2.05,1.96)(2.01,1.7)
(1.43,1.03)(1.52,.98)(1.45,.97)(1.42,1.1)(1.5,1.12)(1.57,1.05)(1.62,1.0)(1.72,.97)(1.76,1.05)(1.83,1.03)(1.7,1.1)(1.6,1.12)(1.65,1.2)(1.55,1.18)(1.72,1.2)(1.78,1.25)(1.88,1.22)(1.82,1.13)(1.93,1.1)(2.0,1.1)(2.07,1.13)(1.93,1.15)(2.0,1.2)(2.1,1.22)(1.93,1.28)(1.85,1.32)(1.95,1.35)(2.05,1.3)(2.12,1.35)(1.9,1.42)(2.0,1.4)(2.1,1.42)(2.15,1.47)(1.97,1.47)(2.05,1.52)(2.18,1.56)(2.28,1.56)(2.35,1.55)(2.15,1.62)(2.28,1.65)(2.38,1.68)(2.07,1.63)(2.0,1.57)(2.4,1.45)(2.55,1.6)(2.5,1.5)(2.62,1.52)(2.48,1.72)(2.55,1.78)(2.42,1.82)(2.32,1.85)(2.25,1.8)(2.18,1.9)(2.1,1.85)(2.45,2.0)(2.35,2.05)(1.97,1.05)(1.88,1.08)(1.66,1.03)(1.78,1.13)(1.87,1.42)(2.2,1.4)(2.3,1.5)(2.44,1.62)(2.2,1.72)(1.5,1.02)(1.55,.97)(2.08,1.0)(1.8,.98)(2.62,1.62)(2.4,1.73)}
\addplot[ink,line width=2.3pt,forget plot] coordinates {(-0.15,-0.109)(5.12,3.108)};
\furn{c}{Picoeukaryotes}{0.57}
\end{axis}
\node[font=\fontsize{24.4}{26}\selectfont,text=ink] at (377,25) {log10 (cell abundance, cells L\textsuperscript{−1})};
\node[font=\fontsize{24.4}{26}\selectfont,text=ink,rotate=90] at (35,708) {log10 (Chl \textit{a}, ngL\textsuperscript{−1})};
\end{tikzpicture}
\end{document}
